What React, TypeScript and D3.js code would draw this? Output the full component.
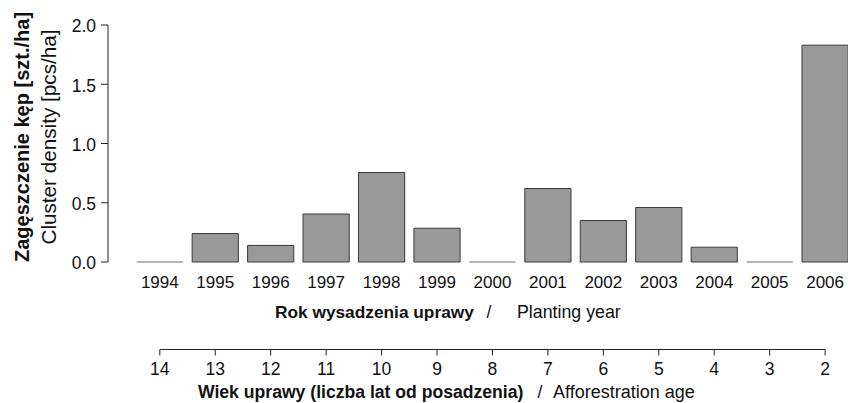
import React from 'react';
import * as d3 from 'd3';

const years = ['1994', '1995', '1996', '1997', '1998', '1999', '2000', '2001', '2002', '2003', '2004', '2005', '2006'];
const density = [0, 0.24, 0.14, 0.405, 0.755, 0.285, 0, 0.62, 0.35, 0.46, 0.125, 0, 1.83];
const ages = ['14', '13', '12', '11', '10', '9', '8', '7', '6', '5', '4', '3', '2'];
const yTicks = [0, 0.5, 1.0, 1.5, 2.0];

const W = 848;
const H = 403;
const FONT = '"Liberation Sans", Arial, Helvetica, sans-serif';

export default function App() {
  const x = d3.scaleBand<string>().domain(years).range([136.7, 848.2]).paddingInner(0.2 / 1.2).paddingOuter(0);
  const y = d3.scaleLinear().domain([0, 2]).range([262, 25]);
  const axisX = 108;
  const ageY = 349.5;
  const centers = years.map((yr) => (x(yr) as number) + x.bandwidth() / 2);

  const barPath = (yr: string, v: number) => {
    const p = d3.path();
    p.rect(x(yr) as number, y(v), x.bandwidth(), y(0) - y(v));
    return p.toString();
  };

  return (
    <svg width={W} height={H} style={{ position: 'absolute', left: 0, top: 0, background: '#fff' }} fontFamily={FONT}>
      {/* bars */}
      {years.map((yr, i) =>
        density[i] > 0 ? (
          <path key={yr} d={barPath(yr, density[i])} fill="#999999" stroke="#3a3a3a" strokeWidth={1} />
        ) : (
          <line
            key={yr}
            x1={x(yr) as number}
            x2={(x(yr) as number) + x.bandwidth()}
            y1={y(0)}
            y2={y(0)}
            stroke="#6a6a6a"
            strokeWidth={1.2}
          />
        )
      )}
      {/* y axis */}
      <line x1={axisX} x2={axisX} y1={y(0)} y2={y(2)} stroke="#222" strokeWidth={1} />
      {yTicks.map((t) => (
        <g key={t}>
          <line x1={axisX - 7} x2={axisX} y1={y(t)} y2={y(t)} stroke="#222" strokeWidth={1} />
          <text x={axisX - 12} y={y(t)} dy="0.42em" textAnchor="end" fontSize={17.5} fill="#111">
            {d3.format('.1f')(t)}
          </text>
        </g>
      ))}
      {/* y titles */}
      <text transform={`translate(29,137) rotate(-90)`} textAnchor="middle" fontSize={20} fontWeight="bold" fill="#111">
        Zagęszczenie kęp [szt./ha]
      </text>
      <text transform={`translate(56,137) rotate(-90)`} textAnchor="middle" fontSize={20.7} fill="#111">
        Cluster density [pcs/ha]
      </text>
      {/* year labels */}
      {years.map((yr, i) => (
        <text key={yr} x={centers[i]} y={288} textAnchor="middle" fontSize={17} fill="#111">
          {yr}
        </text>
      ))}
      {/* x title 1 */}
      <text x={275} y={318} fontSize={17.3} fontWeight="bold" fill="#111">Rok wysadzenia uprawy</text>
      <text x={489} y={318} fontSize={17.5} textAnchor="middle" fill="#111">/</text>
      <text x={517} y={318} fontSize={17.8} fill="#111">Planting year</text>
      {/* age axis */}
      <line x1={centers[0]} x2={centers[centers.length - 1]} y1={ageY} y2={ageY} stroke="#222" strokeWidth={1} />
      {ages.map((a, i) => (
        <g key={a}>
          <line x1={centers[i]} x2={centers[i]} y1={ageY} y2={ageY + 6} stroke="#222" strokeWidth={1} />
          <text x={centers[i]} y={375} textAnchor="middle" fontSize={17.5} fill="#111">
            {a}
          </text>
        </g>
      ))}
      {/* x title 2 */}
      <text x={198} y={398} fontSize={17.6} fontWeight="bold" fill="#111">Wiek uprawy (liczba lat od posadzenia)</text>
      <text x={540} y={398} fontSize={17.5} textAnchor="middle" fill="#111">/</text>
      <text x={553} y={398} fontSize={18} fill="#111">Afforestration age</text>
    </svg>
  );
}
